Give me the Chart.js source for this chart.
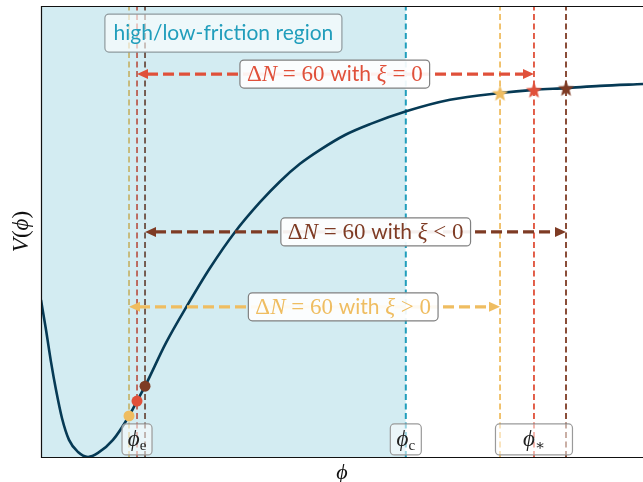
<!DOCTYPE html>
<html>
<head>
<meta charset="utf-8">
<script src="https://cdn.jsdelivr.net/npm/chart.js@4.4.1/dist/chart.umd.min.js"></script>
<style>
  html, body { margin: 0; padding: 0; background: #fff; }
  canvas { display: block; }
</style>
</head>
<body>
<canvas id="chart" width="643" height="482"></canvas>
<script>
// ====== Data ======
const phi = [0, 0.083, 0.166, 0.249, 0.349, 0.465, 0.615, 0.781, 0.947, 1.196, 1.462, 1.595, 1.728, 2.076, 2.425, 2.807,
             3.223, 3.638, 3.97, 4.302, 4.635, 5.05, 5.465, 6.08, 6.794, 7.625, 8.189, 8.721, 9.286, 10];
const V   = [0.348, 0.282, 0.211, 0.149, 0.086, 0.038, 0.011, 0, 0.009, 0.038, 0.091, 0.124, 0.157, 0.253, 0.335, 0.419,
             0.499, 0.565, 0.611, 0.65, 0.681, 0.714, 0.738, 0.767, 0.792, 0.807, 0.814, 0.818, 0.823, 0.827];

// series order: xi > 0, xi = 0, xi < 0
const seriesNames = ['ξ > 0', 'ξ = 0', 'ξ < 0'];
const phiEnd  = [1.462, 1.595, 1.728];
const vEnd    = [0.091, 0.124, 0.157];
const phiStar = [7.625, 8.189, 8.721];
const vStar   = [0.807, 0.814, 0.818];
const phiC    = 6.06;

const arrowV      = [0.333, 0.849, 0.499];
const arrowLabelX = [5.02, 4.88, 5.56];

const regionLabel = 'high/low-friction region';
const regionLabelPos = [3.03, 0.94];
const pointLabelV = 0.039;

const colors = ['#efbd61', '#e0503a', '#7e3b24'];
const curveColor = '#063a55';
const regionColor = '#219ebc';

const SERIF = "'Liberation Serif', 'DejaVu Serif', serif";
const SANS  = "Lato, 'Open Sans', sans-serif";

// ====== Helpers ======
function starImage(color, R) {
  const c = document.createElement('canvas');
  const s = Math.ceil(R * 2 + 2);
  c.width = s; c.height = s;
  const g = c.getContext('2d');
  g.translate(s / 2, s / 2 + R * 0.1);
  g.beginPath();
  for (let i = 0; i < 10; i++) {
    const r = i % 2 ? R * 0.43 : R;
    const a = -Math.PI / 2 + i * Math.PI / 5;
    g.lineTo(r * Math.cos(a), r * Math.sin(a));
  }
  g.closePath();
  g.fillStyle = color;
  g.fill();
  return c;
}

function richWidth(ctx, segs) {
  return segs.reduce((w, s) => { ctx.font = s.f; return w + ctx.measureText(s.t).width; }, 0);
}

function drawRich(ctx, segs, cx, baseY) {
  let x = cx - richWidth(ctx, segs) / 2;
  segs.forEach(s => {
    ctx.font = s.f;
    ctx.fillStyle = s.c;
    ctx.fillText(s.t, x, baseY + (s.dy || 0));
    x += ctx.measureText(s.t).width;
  });
}

function roundBox(ctx, cx, cy, w, h, fill, stroke) {
  ctx.beginPath();
  ctx.roundRect(cx - w / 2, cy - h / 2, w, h, 4);
  ctx.fillStyle = fill;
  ctx.fill();
  ctx.lineWidth = 1.2;
  ctx.strokeStyle = stroke;
  ctx.stroke();
}

function arrow(ctx, x1, x2, yy, color) {
  const hl = 11, hw = 5;
  ctx.save();
  ctx.strokeStyle = color;
  ctx.fillStyle = color;
  ctx.lineWidth = 3.2;
  ctx.setLineDash([11, 5]);
  ctx.beginPath();
  ctx.moveTo(x1 + hl - 1, yy);
  ctx.lineTo(x2 - hl + 1, yy);
  ctx.stroke();
  ctx.setLineDash([]);
  [[x1, 1], [x2, -1]].forEach(([tx, d]) => {
    ctx.beginPath();
    ctx.moveTo(tx, yy);
    ctx.lineTo(tx + d * hl, yy - hw);
    ctx.lineTo(tx + d * hl, yy + hw);
    ctx.closePath();
    ctx.fill();
  });
  ctx.restore();
}

function deltaSegs(i) {
  const c = colors[i];
  const sym = seriesNames[i].split(' ');
  return [
    { t: 'Δ', f: `23px ${SERIF}`, c },
    { t: 'N', f: `italic 23px ${SERIF}`, c },
    { t: ' = 60 ', f: `23px ${SERIF}`, c },
    { t: 'with', f: `21px ${SANS}`, c },
    { t: ' ', f: `23px ${SERIF}`, c },
    { t: sym[0], f: `italic 23px ${SERIF}`, c },
    { t: ` ${sym[1]} ${sym[2]}`, f: `23px ${SERIF}`, c }
  ];
}

// ====== Overlay: arrows, boxes, frame, axis titles ======
const overlay = {
  id: 'overlay',
  afterDatasetsDraw(chart) {
    const { ctx, scales: { x, y } } = chart;
    ctx.save();
    ctx.textBaseline = 'alphabetic';

    // region label
    const rx = x.getPixelForValue(regionLabelPos[0]);
    const ry = y.getPixelForValue(regionLabelPos[1]);
    roundBox(ctx, rx, ry, 237, 38, 'rgba(255,255,255,0.62)', '#8f9a9e');
    drawRich(ctx, [{ t: regionLabel, f: `21px ${SANS}`, c: regionColor }], rx, ry + 7);

    // arrows with labels
    [1, 2, 0].forEach(i => {
      const yy = y.getPixelForValue(arrowV[i]);
      arrow(ctx, x.getPixelForValue(phiEnd[i]), x.getPixelForValue(phiStar[i]), yy, colors[i]);
      const segs = deltaSegs(i);
      const cx = x.getPixelForValue(arrowLabelX[i]);
      roundBox(ctx, cx, yy, richWidth(ctx, segs) + 14, 28, 'rgba(255,255,255,0.92)', '#808080');
      drawRich(ctx, segs, cx, yy + 7);
    });

    // point labels at the bottom
    const py = y.getPixelForValue(pointLabelV);
    const lab = [
      { x: phiEnd[1], w: 30, sub: 'e' },
      { x: phiC, w: 31, sub: 'c' },
      { x: phiStar[1], w: 77, sub: '∗' }
    ];
    lab.forEach(l => {
      const cx = x.getPixelForValue(l.x);
      roundBox(ctx, cx, py, l.w, 31, 'rgba(255,255,255,0.55)', '#9a9a9a');
      drawRich(ctx, [
        { t: 'ϕ', f: `italic 23px ${SERIF}`, c: '#222' },
        { t: l.sub, f: `15px ${SERIF}`, c: '#222', dy: 4 }
      ], cx, py + 7);
    });
    ctx.restore();
  },
  afterDraw(chart) {
    const { ctx, chartArea: a } = chart;
    ctx.save();
    ctx.strokeStyle = '#111';
    ctx.lineWidth = 1.2;
    ctx.beginPath();
    ctx.moveTo(a.right, a.top + 0.5);
    ctx.lineTo(a.left + 0.5, a.top + 0.5);
    ctx.lineTo(a.left + 0.5, a.bottom + 0.5);
    ctx.lineTo(a.right, a.bottom + 0.5);
    ctx.stroke();

    ctx.textBaseline = 'alphabetic';
    drawRich(ctx, [{ t: 'ϕ', f: `italic 22px ${SERIF}`, c: '#111' }], (a.left + a.right) / 2, a.bottom + 22);
    ctx.translate(28, (a.top + a.bottom) / 2);
    ctx.rotate(-Math.PI / 2);
    drawRich(ctx, [
      { t: 'V', f: `italic 23px ${SERIF}`, c: '#111' },
      { t: '(', f: `23px ${SERIF}`, c: '#111' },
      { t: 'ϕ', f: `italic 23px ${SERIF}`, c: '#111' },
      { t: ')', f: `23px ${SERIF}`, c: '#111' }
    ], 0, 0);
    ctx.restore();
  }
};

// ====== Datasets ======
const vline = (xv, color, width) => ({
  data: [{ x: xv, y: 0 }, { x: xv, y: 1 }],
  borderColor: color,
  borderWidth: width,
  borderDash: [6, 3.5],
  pointRadius: 0,
  fill: false
});

const datasets = [
  {
    data: phiStar.map((p, i) => ({ x: p, y: vStar[i] })),
    showLine: false,
    pointStyle: colors.map(c => starImage(c, 8.5)),
    pointRadius: 9
  },
  {
    data: phiEnd.map((p, i) => ({ x: p, y: vEnd[i] })),
    showLine: false,
    pointRadius: 5.5,
    pointBorderWidth: 0,
    pointBackgroundColor: colors
  },
  {
    data: phi.map((p, i) => ({ x: p, y: V[i] })),
    borderColor: curveColor,
    borderWidth: 2.6,
    pointRadius: 0,
    cubicInterpolationMode: 'monotone',
    fill: false
  },
  vline(phiC, regionColor, 2),
  {
    data: [{ x: 0, y: 1 }, { x: phiC, y: 1 }],
    borderWidth: 0,
    pointRadius: 0,
    fill: 'start',
    backgroundColor: 'rgba(33,158,188,0.2)'
  },
  ...phiEnd.map((p, i) => vline(p, colors[i], 1.8)),
  ...phiStar.map((p, i) => vline(p, colors[i], 1.8))
];

new Chart(document.getElementById('chart'), {
  type: 'line',
  data: { datasets },
  options: {
    responsive: false,
    devicePixelRatio: 1,
    animation: false,
    events: [],
    layout: { autoPadding: false, padding: { left: 41, top: 6, right: 0, bottom: 25 } },
    plugins: { legend: { display: false }, tooltip: { enabled: false } },
    scales: {
      x: { type: 'linear', min: 0, max: 10, display: false },
      y: { type: 'linear', min: 0, max: 1, display: false }
    }
  },
  plugins: [overlay]
});
</script>
</body>
</html>
